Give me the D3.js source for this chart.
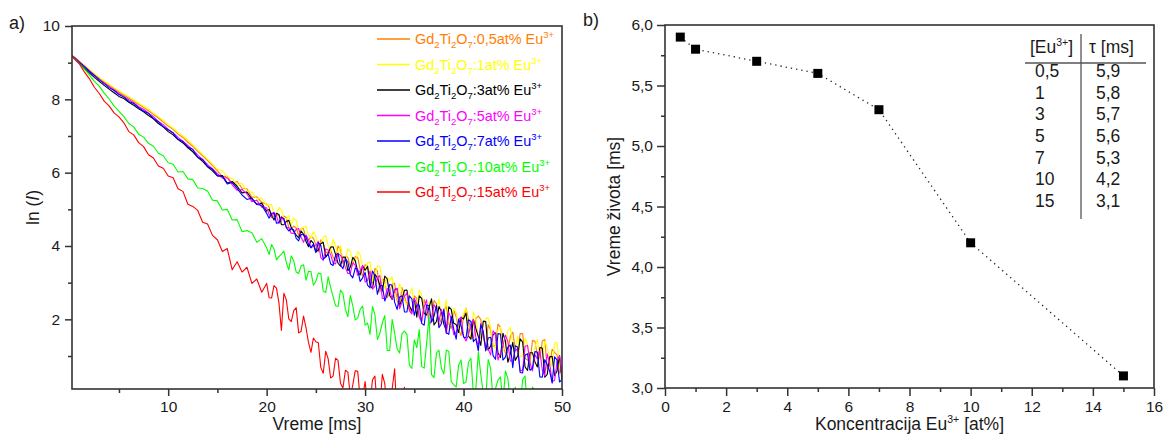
<!DOCTYPE html>
<html>
<head>
<meta charset="utf-8">
<script src="https://cdn.jsdelivr.net/npm/d3@7"></script>
<style>
  body { margin: 0; background: #fff; }
  svg { display: block; font-family: "Liberation Sans", Arial, sans-serif; }
</style>
</head>
<body>
<svg id="fig" width="1164" height="441"></svg>
<script>
// ---------- Panel a): luminescence decay, ln(I) vs time ----------
// sampling: every 0.5 ms up to 20 ms, every 0.25 ms afterwards
const times = [
  0.2,0.5,1,1.5,2,2.5,3,3.5,4,4.5,5,
  5.5,6,6.5,7,7.5,8,8.5,9,9.5,10,
  10.5,11,11.5,12,12.5,13,13.5,14,14.5,15,
  15.5,16,16.5,17,17.5,18,18.5,19,19.5,20,
  20.25,20.5,20.75,21,21.25,21.5,21.75,22,22.25,22.5,22.75,23,23.25,23.5,23.75,24,24.25,24.5,24.75,25,
  25.25,25.5,25.75,26,26.25,26.5,26.75,27,27.25,27.5,27.75,28,28.25,28.5,28.75,29,29.25,29.5,29.75,30,
  30.25,30.5,30.75,31,31.25,31.5,31.75,32,32.25,32.5,32.75,33,33.25,33.5,33.75,34,34.25,34.5,34.75,35,
  35.25,35.5,35.75,36,36.25,36.5,36.75,37,37.25,37.5,37.75,38,38.25,38.5,38.75,39,39.25,39.5,39.75,40,
  40.25,40.5,40.75,41,41.25,41.5,41.75,42,42.25,42.5,42.75,43,43.25,43.5,43.75,44,44.25,44.5,44.75,45,
  45.25,45.5,45.75,46,46.25,46.5,46.75,47,47.25,47.5,47.75,48,48.25,48.5,48.75,49,49.25,49.5,49.75,50
];

const dopingLabels = ["0,5", "1", "3", "5", "7", "10", "15"];
const seriesColors = ["#FF8000", "#FFFF00", "#000000", "#FF00FF", "#0000FF", "#00FF00", "#FF0000"];

const lnI_05 = [
  9.20,9.14,9.03,8.92,8.80,8.69,8.58,8.48,8.39,8.30,8.20,
  8.12,8.03,7.95,7.86,7.78,7.69,7.59,7.49,7.38,7.27,
  7.18,7.05,6.96,6.83,6.72,6.58,6.46,6.33,6.19,6.05,
  5.90,5.90,5.70,5.76,5.57,5.56,5.33,5.34,5.19,5.14,
  5.06,4.78,4.82,4.85,4.84,4.68,4.82,4.77,4.50,4.46,4.54,4.49,4.29,4.48,4.47,4.18,4.16,4.25,4.22,4.03,
  3.84,4.17,4.07,3.82,3.84,3.89,3.70,3.60,4.00,3.91,3.52,3.72,3.69,3.44,3.50,3.71,3.69,3.36,3.18,3.49,
  3.46,3.11,2.99,3.39,3.32,2.74,3.09,3.08,2.59,2.74,2.96,2.98,2.51,2.39,2.87,2.63,2.39,2.27,2.18,2.64,
  2.57,2.10,1.96,2.54,2.33,2.16,2.04,2.51,2.43,1.82,2.03,2.24,2.36,1.88,1.75,2.26,2.07,1.70,1.56,2.07,
  2.31,2.00,1.69,1.43,2.02,2.09,2.00,1.50,1.26,1.85,1.71,1.26,1.29,1.87,1.78,1.32,1.08,1.10,1.54,1.65,
  1.21,1.12,1.61,1.61,0.93,0.89,0.81,1.42,1.41,1.00,0.93,1.41,1.45,0.65,0.77,1.18,1.09,1.03,0.53,0.68
];
const lnI_1 = [
  9.21,9.15,9.04,8.93,8.81,8.70,8.60,8.50,8.41,8.32,8.23,
  8.15,8.07,7.99,7.90,7.82,7.73,7.63,7.53,7.43,7.31,
  7.22,7.10,7.00,6.88,6.76,6.62,6.50,6.37,6.23,6.09,
  6.06,5.88,5.84,5.66,5.71,5.50,5.47,5.29,5.31,5.10,
  5.14,5.13,4.86,4.86,5.05,4.99,4.76,4.74,4.83,4.57,4.76,4.70,4.40,4.47,4.51,4.54,4.28,4.22,4.39,4.27,
  4.01,4.05,4.24,4.28,4.00,3.85,4.19,4.00,3.75,4.01,3.63,3.62,3.92,3.84,3.60,3.57,3.85,3.76,3.41,3.31,
  3.54,3.56,3.04,3.22,3.46,3.44,3.05,2.85,3.15,3.05,3.16,2.59,2.59,2.97,2.77,2.52,2.38,2.66,2.86,2.31,
  2.33,2.80,2.66,2.26,2.09,2.47,2.49,2.06,2.19,2.56,2.03,2.14,2.53,1.92,1.85,2.30,2.18,1.71,1.94,2.15,
  2.31,1.77,1.49,2.19,2.02,1.56,1.48,1.84,2.02,2.04,1.79,1.30,1.21,1.72,1.78,1.13,1.24,1.68,1.78,1.27,
  1.21,1.54,0.97,1.00,1.49,1.31,0.81,0.81,1.25,1.45,0.93,0.99,1.41,1.22,0.97,0.69,1.37,1.37,0.69,0.76
];
const lnI_3 = [
  9.19,9.11,8.98,8.85,8.72,8.60,8.49,8.38,8.28,8.18,8.08,
  8.02,7.92,7.84,7.74,7.66,7.56,7.47,7.34,7.25,7.12,
  7.03,6.90,6.81,6.68,6.57,6.42,6.31,6.16,6.05,5.91,
  5.92,5.72,5.76,5.63,5.45,5.47,5.28,5.14,5.17,4.95,
  5.00,4.84,4.71,4.89,4.86,4.58,4.58,4.67,4.70,4.50,4.40,4.30,4.22,4.41,4.32,4.12,3.98,4.15,4.08,3.84,
  3.89,4.06,4.10,3.70,3.80,3.97,3.98,3.77,3.53,3.45,3.70,3.69,3.33,3.42,3.69,3.60,3.30,3.21,3.46,3.34,
  3.44,2.93,2.84,3.23,3.13,2.93,2.77,3.18,3.10,2.65,2.54,2.81,2.84,2.37,2.55,2.79,2.80,2.37,2.23,2.57,
  2.06,2.64,2.57,2.16,2.12,2.33,2.56,1.85,1.94,2.35,2.21,1.87,1.69,2.34,2.27,1.89,1.86,1.64,2.05,2.01,
  2.17,1.54,1.46,2.00,1.75,1.53,1.29,1.95,1.94,1.16,1.27,1.58,1.63,1.08,0.96,1.62,1.41,0.83,1.06,1.37,
  0.88,1.01,1.47,1.38,0.70,0.61,1.09,1.09,0.84,0.70,1.23,1.22,0.42,0.50,0.98,0.99,0.46,0.60,1.01,0.33
];
const lnI_5 = [
  9.20,9.14,9.02,8.90,8.78,8.66,8.55,8.45,8.35,8.26,8.16,
  8.08,7.99,7.91,7.80,7.73,7.62,7.53,7.40,7.31,7.18,
  7.09,6.96,6.86,6.74,6.63,6.48,6.36,6.22,6.10,5.97,
  5.85,5.86,5.67,5.52,5.54,5.42,5.21,5.25,5.06,5.04,
  4.86,4.78,4.92,4.82,4.61,4.81,4.70,4.51,4.50,4.35,4.34,4.45,4.48,4.24,4.10,4.30,4.17,3.97,3.98,4.01,
  4.13,3.68,3.61,3.92,3.89,3.77,3.53,3.51,3.79,3.75,3.62,3.41,3.25,3.26,3.54,3.48,3.20,3.33,3.47,3.02,
  3.06,3.32,2.82,2.90,3.14,3.19,2.57,2.57,2.84,2.80,2.55,2.82,2.85,2.29,2.47,2.63,2.72,2.23,2.15,2.57,
  2.43,2.06,1.93,2.34,2.53,1.82,1.99,2.40,2.28,1.94,2.27,2.06,1.61,2.19,2.02,1.58,1.64,1.99,2.07,1.53,
  1.41,1.58,1.86,2.00,1.51,1.26,1.89,1.64,1.18,1.19,1.03,1.69,1.59,0.89,1.08,1.28,1.57,1.40,0.86,0.87,
  1.16,1.20,0.59,0.62,1.26,1.29,0.81,0.59,1.04,0.92,1.15,0.61,0.46,1.06,0.78,0.30,0.34,0.86,1.01,0.48
];
const lnI_7 = [
  9.20,9.13,9.01,8.89,8.76,8.65,8.53,8.43,8.32,8.24,8.13,
  8.06,7.94,7.89,7.77,7.68,7.62,7.48,7.39,7.25,7.17,
  7.08,6.91,6.85,6.70,6.63,6.42,6.36,6.17,6.10,5.92,
  5.90,5.69,5.73,5.57,5.39,5.27,5.31,5.13,5.11,4.89,
  4.76,4.89,4.90,4.62,4.64,4.78,4.75,4.50,4.41,4.47,4.44,4.21,4.14,4.32,4.30,4.25,4.05,3.95,4.05,3.82,
  4.09,4.02,3.64,3.70,3.78,3.51,3.47,3.75,3.80,3.49,3.38,3.65,3.56,3.22,3.13,3.40,3.36,3.03,3.13,3.28,
  2.93,2.86,3.32,3.19,2.68,2.93,2.92,2.50,2.68,2.95,2.93,2.47,2.27,2.61,2.64,2.20,2.20,2.64,2.56,2.11,
  2.39,2.39,1.89,1.84,2.39,2.37,1.92,2.09,2.38,1.77,1.88,2.28,1.64,1.59,2.08,1.74,1.46,2.01,1.82,1.52,
  1.49,1.99,1.94,1.39,1.47,1.14,1.85,1.68,1.14,1.49,1.51,1.01,0.91,1.61,1.60,0.89,0.97,1.24,1.30,0.68,
  1.28,1.24,0.55,0.54,1.02,1.06,0.61,0.67,1.12,1.11,0.43,0.42,0.90,0.76,0.58,0.26,0.98,0.89,0.29,0.36
];
const lnI_10 = [
  9.20,9.11,8.97,8.82,8.66,8.49,8.36,8.17,8.01,7.82,7.67,
  7.53,7.34,7.25,7.05,6.97,6.80,6.72,6.53,6.46,6.27,
  6.23,6.02,6.03,5.83,5.81,5.58,5.57,5.50,5.25,5.23,
  4.98,5.00,4.71,4.72,4.39,4.42,4.36,4.10,4.20,3.95,
  3.77,4.04,3.92,3.62,3.71,3.78,3.86,3.55,3.35,3.73,3.60,3.29,3.25,3.46,3.49,3.07,3.31,3.30,2.93,3.04,
  3.26,3.25,2.77,2.73,3.16,2.87,2.62,2.37,2.35,2.80,2.70,2.27,2.07,2.65,2.37,1.98,2.04,2.27,2.36,1.84,
  1.90,1.59,2.35,2.12,1.45,1.62,1.90,2.10,1.15,1.15,2.00,1.63,1.20,1.08,1.61,1.68,1.59,0.75,0.66,1.44,
  1.23,1.72,0.71,0.67,1.35,2.10,0.49,0.41,1.08,1.16,0.67,0.51,1.16,1.13,0.30,0.22,0.15,0.75,0.89,0.25,
  0.29,0.83,0.94,-0.03,0.10,1.10,0.50,0.00,-0.20,0.90,0.66,-0.17,0.12,0.34,0.43,-0.29,0.59,0.39,-0.25,-0.28,
  0.15,-0.40,-0.40,0.35,0.45,-0.50,-0.50,0.15,0.05,-0.60,-0.60,-0.20,-0.30,-0.70,-0.70,-0.40,-0.50,-0.80,-0.80,-0.90
];
const lnI_15 = [
  9.20,9.09,8.96,8.74,8.56,8.33,8.16,7.95,7.82,7.63,7.52,
  7.36,7.12,7.03,6.82,6.71,6.49,6.40,6.18,6.12,5.91,
  5.86,5.56,5.49,5.14,5.08,4.97,4.65,4.60,4.29,4.17,
  3.85,3.93,3.35,3.57,3.29,3.42,2.98,3.10,2.74,2.98,
  2.59,2.58,2.92,2.85,2.45,1.70,2.71,2.53,2.01,1.94,2.24,2.32,1.63,1.67,2.09,1.77,1.37,1.10,1.49,1.39,
  1.36,0.69,0.53,1.13,0.92,0.40,0.45,0.94,0.88,0.26,0.13,0.61,0.56,-0.10,0.21,0.60,0.58,-0.17,-0.13,0.30,
  -0.30,-0.30,0.35,0.45,-0.50,-0.40,0.50,0.25,-0.60,-0.50,0.10,0.65,-0.70,-0.60,-0.20,0.15,-1.00,-0.80,-1.00,-0.90,
  -1.00,-1.00,-1.00,-1.00,-1.00,-1.00,-1.00,-1.00,-1.00,-1.00,-1.00,-1.00,-1.00,-1.00,-1.00,-1.00,-1.00,-1.00,-1.00,-1.00,
  -1.00,-1.00,-1.00,-1.00,-1.00,-1.00,-1.00,-1.00,-1.00,-1.00,-1.00,-1.00,-1.00,-1.00,-1.00,-1.00,-1.00,-1.00,-1.00,-1.00,
  -1.00,-1.00,-1.00,-1.00,-1.00,-1.00,-1.00,-1.00,-1.00,-1.00,-1.00,-1.00,-1.00,-1.00,-1.00,-1.00,-1.00,-1.00,-1.00,-1.00
];
const decaySeries = [lnI_05, lnI_1, lnI_3, lnI_5, lnI_7, lnI_10, lnI_15];

const xMajorA = [10, 20, 30, 40, 50];
const xMinorA = [5, 15, 25, 35, 45];
const yMajorA = [2, 4, 6, 8, 10];
const yMinorA = [1, 3, 5, 7, 9];

// ---------- Panel b): lifetime vs Eu3+ concentration ----------
const concentrations = [0.5, 1, 3, 5, 7, 10, 15];
const lifetimes = [5.9, 5.8, 5.7, 5.6, 5.3, 4.2, 3.1];
const concLabels = ["0,5", "1", "3", "5", "7", "10", "15"];
const tauLabels = ["5,9", "5,8", "5,7", "5,6", "5,3", "4,2", "3,1"];

const xMajorB = [0, 2, 4, 6, 8, 10, 12, 14, 16];
const xMinorB = [1, 3, 5, 7, 9, 11, 13, 15];
const yMajorB = [3.0, 3.5, 4.0, 4.5, 5.0, 5.5, 6.0];
const yMinorB = [3.25, 3.75, 4.25, 4.75, 5.25, 5.75];

// ---------- shared drawing helpers ----------
const svg = d3.select("#fig");
const axisColor = "#333";
const textColor = "#1a1a1a";
const tickFont = "15.5px";
const titleFont = "17.5px";
const commaFmt = f => v => f(v).replace(".", ",");

function styleAxis(g) {
  g.select(".domain").remove();
  g.selectAll(".tick line").attr("stroke", axisColor).attr("stroke-width", 1.5);
  g.selectAll(".tick text").attr("fill", textColor).style("font-size", tickFont);
}

function drawFrame(x0, y0, x1, y1) {
  svg.append("rect")
    .attr("x", x0).attr("y", y0)
    .attr("width", x1 - x0).attr("height", y1 - y0)
    .attr("fill", "none").attr("stroke", axisColor).attr("stroke-width", 1.6);
}

function drawAxes(x, y, box, xMaj, xMin, yMaj, yMin, xFmt, yFmt, tick) {
  const gxMin = svg.append("g").attr("transform", `translate(0,${box.y1})`)
    .call(d3.axisBottom(x).tickValues(xMin).tickSize(tick.minor).tickFormat(""));
  styleAxis(gxMin);
  const gx = svg.append("g").attr("transform", `translate(0,${box.y1})`)
    .call(d3.axisBottom(x).tickValues(xMaj).tickSize(tick.major).tickPadding(5).tickFormat(xFmt));
  styleAxis(gx);
  const gyMin = svg.append("g").attr("transform", `translate(${box.x0},0)`)
    .call(d3.axisLeft(y).tickValues(yMin).tickSize(tick.minor).tickFormat(""));
  styleAxis(gyMin);
  const gy = svg.append("g").attr("transform", `translate(${box.x0},0)`)
    .call(d3.axisLeft(y).tickValues(yMaj).tickSize(tick.major).tickPadding(tick.pad).tickFormat(yFmt));
  styleAxis(gy);
}

// ================= Panel a) =================
const boxA = { x0: 72, y0: 26, x1: 562, y1: 389 };
const xA = d3.scaleLinear().domain([0.23, 50]).range([boxA.x0, boxA.x1]);
const yA = d3.scaleLinear().domain([0.1, 10]).range([boxA.y1, boxA.y0]);

svg.append("clipPath").attr("id", "clipA")
  .append("rect")
  .attr("x", boxA.x0).attr("y", boxA.y0)
  .attr("width", boxA.x1 - boxA.x0).attr("height", boxA.y1 - boxA.y0);

const decayLine = d3.line()
  .x((d, i) => xA(times[i]))
  .y(d => yA(d));

const curves = svg.append("g").attr("clip-path", "url(#clipA)");
decaySeries.forEach((vals, i) => {
  curves.append("path")
    .datum(vals)
    .attr("d", decayLine)
    .attr("fill", "none")
    .attr("stroke", seriesColors[i])
    .attr("stroke-width", 1.1)
    .attr("stroke-linejoin", "round");
});

drawFrame(boxA.x0, boxA.y0, boxA.x1, boxA.y1);
drawAxes(xA, yA, boxA, xMajorA, xMinorA, yMajorA, yMinorA,
  d3.format("d"), d3.format("d"), { major: 7, minor: 4, pad: 5 });

// legend
const legendY = d3.scalePoint().domain(d3.range(dopingLabels.length)).range([39, 192]);
const legend = svg.append("g");
dopingLabels.forEach((lab, i) => {
  const cy = legendY(i);
  legend.append("line")
    .attr("x1", 377).attr("x2", 410).attr("y1", cy).attr("y2", cy)
    .attr("stroke", seriesColors[i]).attr("stroke-width", 1.3);
  const t = legend.append("text")
    .attr("x", 415).attr("y", cy + 5)
    .attr("fill", seriesColors[i])
    .style("font-size", "14.4px");
  const parts = [
    ["Gd", 0], ["2", 4, "sub"], ["Ti", -4], ["2", 4, "sub"], ["O", -4], ["7", 4, "sub"],
    [":" + lab + "at% Eu", -4], ["3+", -6, "sup"]
  ];
  parts.forEach(([s, dy, kind]) => {
    const ts = t.append("tspan").attr("dy", dy).text(s);
    if (kind) ts.style("font-size", "9.5px");
  });
});

// axis titles and panel label
svg.append("text")
  .attr("x", (boxA.x0 + boxA.x1) / 2).attr("y", 430)
  .attr("text-anchor", "middle").attr("fill", textColor)
  .style("font-size", titleFont).text("Vreme [ms]");

const ylabA = svg.append("text")
  .attr("transform", `translate(39,${(boxA.y0 + boxA.y1) / 2}) rotate(-90)`)
  .attr("text-anchor", "middle").attr("fill", textColor)
  .style("font-size", titleFont);
ylabA.append("tspan").text("ln (");
ylabA.append("tspan").style("font-style", "italic").text("I");
ylabA.append("tspan").text(")");

svg.append("text").attr("x", 9).attr("y", 29)
  .attr("fill", textColor).style("font-size", "18px").text("a)");

// ================= Panel b) =================
const boxB = { x0: 665, y0: 25, x1: 1154, y1: 388 };
const xB = d3.scaleLinear().domain([0, 16]).range([boxB.x0, boxB.x1]);
const yB = d3.scaleLinear().domain([3.0, 6.0]).range([boxB.y1, boxB.y0]);

const lifeLine = d3.line()
  .x((d, i) => xB(concentrations[i]))
  .y(d => yB(d));

svg.append("path")
  .datum(lifetimes)
  .attr("d", lifeLine)
  .attr("fill", "none")
  .attr("stroke", "#222")
  .attr("stroke-width", 1.3)
  .attr("stroke-dasharray", "1.3,4");

const sq = 9;
svg.append("g").selectAll("rect")
  .data(lifetimes)
  .join("rect")
  .attr("x", (d, i) => xB(concentrations[i]) - sq / 2)
  .attr("y", d => yB(d) - sq / 2)
  .attr("width", sq).attr("height", sq)
  .attr("fill", "#000");

drawFrame(boxB.x0, boxB.y0, boxB.x1, boxB.y1);
drawAxes(xB, yB, boxB, xMajorB, xMinorB, yMajorB, yMinorB,
  d3.format("d"), commaFmt(d3.format(".1f")), { major: 8, minor: 4, pad: 4 });

// inset table of lifetimes
const table = svg.append("g").attr("fill", textColor).style("font-size", "17.5px");
const hdr = table.append("text").attr("x", 1030).attr("y", 53);
hdr.append("tspan").text("[Eu");
hdr.append("tspan").attr("dy", -7).style("font-size", "10.5px").text("3+");
hdr.append("tspan").attr("dy", 7).text("]");
table.append("text").attr("x", 1089).attr("y", 53).text("τ [ms]");

table.append("line").attr("x1", 1025).attr("x2", 1146).attr("y1", 63).attr("y2", 63)
  .attr("stroke", "#555").attr("stroke-width", 1.3);
table.append("line").attr("x1", 1081).attr("x2", 1081).attr("y1", 34).attr("y2", 219)
  .attr("stroke", "#555").attr("stroke-width", 1.3);

const rowY = d3.scalePoint().domain(d3.range(concLabels.length)).range([77, 207]);
concLabels.forEach((c, i) => {
  table.append("text").attr("x", 1035).attr("y", rowY(i)).text(c);
  table.append("text").attr("x", 1096).attr("y", rowY(i)).text(tauLabels[i]);
});

// axis titles and panel label
const xlabB = svg.append("text")
  .attr("x", (boxB.x0 + boxB.x1) / 2).attr("y", 430)
  .attr("text-anchor", "middle").attr("fill", textColor)
  .style("font-size", titleFont);
xlabB.append("tspan").text("Koncentracija Eu");
xlabB.append("tspan").attr("dy", -7).style("font-size", "10.5px").text("3+");
xlabB.append("tspan").attr("dy", 7).text(" [at%]");

svg.append("text")
  .attr("transform", `translate(620,${(boxB.y0 + boxB.y1) / 2}) rotate(-90)`)
  .attr("text-anchor", "middle").attr("fill", textColor)
  .style("font-size", titleFont).text("Vreme života [ms]");

svg.append("text").attr("x", 583).attr("y", 26)
  .attr("fill", textColor).style("font-size", "18px").text("b)");
</script>
</body>
</html>
